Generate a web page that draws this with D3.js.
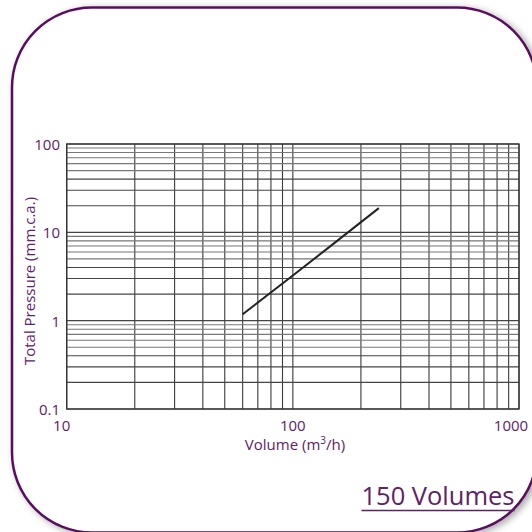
<!DOCTYPE html>
<html>
<head>
<meta charset="utf-8">
<script src="https://cdn.jsdelivr.net/npm/d3@7"></script>
<style>
  html, body { margin: 0; padding: 0; background: #fff; }
  svg { display: block; }
  text { font-family: "Open Sans", "Noto Sans", sans-serif; fill: #5e2266; }
</style>
</head>
<body>
<svg id="chart" width="532" height="532"></svg>
<script>
// ---- data ----
const flow = [60, 100, 150, 240];            // m3/h
const pressure = [1.18, 3.25, 7.3, 18.8];    // mm.c.a.
const xTickLabels = [10, 100, 1000];
const yTickLabels = [0.1, 1, 10, 100];
const xTitle = "Volume (m";
const yTitle = "Total Pressure (mm.c.a.)";
const badge = "150 Volumes";

const svg = d3.select("#chart");
const purple = "#5a0f5f";

// frame with shadow
const defs = svg.append("defs");
const f = defs.append("filter").attr("id", "sh").attr("x", "-10%").attr("y", "-10%").attr("width", "130%").attr("height", "130%");
f.append("feDropShadow").attr("dx", 3).attr("dy", 2).attr("stdDeviation", 3.5).attr("flood-color", "#000").attr("flood-opacity", 0.35);
svg.append("rect")
  .attr("x", 12).attr("y", 7.5).attr("width", 525).attr("height", 525)
  .attr("rx", 80).attr("ry", 80)
  .attr("fill", "#fff").attr("stroke", purple).attr("stroke-width", 2.5)
  .attr("filter", "url(#sh)");

// scales
const x = d3.scaleLog().domain([10, 1000]).range([66.7, 519]);
const y = d3.scaleLog().domain([0.1, 100]).range([409, 144]);

const grid = svg.append("g");
// vertical grid
grid.selectAll("line.v").data(x.ticks()).join("line")
  .attr("class", "v")
  .attr("x1", d => x(d)).attr("x2", d => x(d))
  .attr("y1", y(100)).attr("y2", y(0.1))
  .attr("stroke", "#3a3a3a")
  .attr("stroke-width", 1.1);
// horizontal grid
grid.selectAll("line.h").data(y.ticks()).join("line")
  .attr("class", "h")
  .attr("x1", x(10)).attr("x2", x(1000))
  .attr("y1", d => y(d)).attr("y2", d => y(d))
  .attr("stroke", (d) => {
    const m = d / Math.pow(10, Math.floor(Math.log10(d) + 1e-9));
    return (m > 4.5) ? "#777" : "#444";
  })
  .attr("stroke-width", 1.1);
// frame of plot
grid.append("rect")
  .attr("x", x(10)).attr("y", y(100))
  .attr("width", x(1000) - x(10)).attr("height", y(0.1) - y(100))
  .attr("fill", "none").attr("stroke", "#333").attr("stroke-width", 1.3);

// curve
const line = d3.line().x((d, i) => x(flow[i])).y((d, i) => y(pressure[i]));
svg.append("path")
  .attr("d", line(flow))
  .attr("fill", "none").attr("stroke", "#222").attr("stroke-width", 2);

// tick labels
svg.selectAll("text.yt").data(yTickLabels).join("text")
  .attr("class", "yt")
  .attr("x", 60).attr("y", d => y(d) + 6)
  .attr("text-anchor", "end")
  .attr("font-size", 15)
  .text(d => d);
svg.selectAll("text.xt").data(xTickLabels).join("text")
  .attr("class", "xt")
  .attr("x", (d, i) => x(d) + (i === 0 ? -5 : i === xTickLabels.length - 1 ? -8 : 0))
  .attr("y", 431)
  .attr("text-anchor", "middle")
  .attr("font-size", 15)
  .text(d => d);

// axis titles
const xt = svg.append("text")
  .attr("x", 295).attr("y", 449.5)
  .attr("text-anchor", "middle")
  .attr("font-size", 15);
xt.append("tspan").text(xTitle);
xt.append("tspan").attr("dy", -6).attr("font-size", 10).text("3");
xt.append("tspan").attr("dy", 6).text("/h)");

svg.append("text")
  .attr("transform", "translate(35,281) rotate(-90)")
  .attr("text-anchor", "middle")
  .attr("font-size", 15)
  .text(yTitle);

// badge
const b = svg.append("text")
  .attr("x", 361.5).attr("y", 505)
  .attr("font-size", 25)
  .attr("textLength", 153)
  .attr("lengthAdjust", "spacingAndGlyphs")
  .text(badge);
svg.append("line")
  .attr("x1", 361.5).attr("x2", 361.5 + 153)
  .attr("y1", 510.5).attr("y2", 510.5)
  .attr("stroke", "#5e2266").attr("stroke-width", 1.5);
</script>
</body>
</html>
